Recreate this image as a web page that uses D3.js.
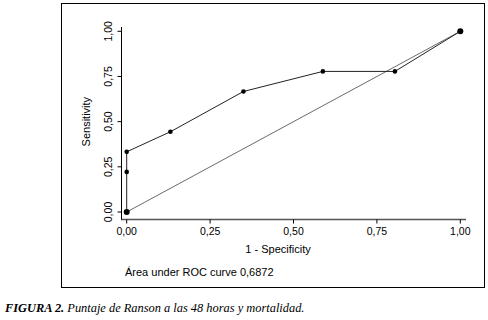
<!DOCTYPE html>
<html>
<head>
<meta charset="utf-8">
<script src="https://cdn.jsdelivr.net/npm/d3@7"></script>
<style>
  body { margin: 0; background: #fff; }
  svg { display: block; }
</style>
</head>
<body>
<div id="chart"></div>
<script>
    // ROC points
    const fpr = [0, 0, 0, 0.131, 0.35, 0.588, 0.804, 1];
    const tpr = [0, 0.222, 0.333, 0.444, 0.667, 0.778, 0.778, 1];
    const ticks = [0, 0.25, 0.5, 0.75, 1];
    const tickLabels = ["0,00", "0,25", "0,50", "0,75", "1,00"];
    const aucText = "Área under ROC curve 0,6872";

    const width = 488;
    const height = 320;

    const svg = d3.select("#chart").append("svg")
        .attr("width", width)
        .attr("height", height)
        .style("font-family", "Arial, 'Liberation Sans', sans-serif");

    // outer frame
    svg.append("rect")
        .attr("x", 61.5).attr("y", 3.5)
        .attr("width", 423).attr("height", 284)
        .attr("fill", "none")
        .attr("stroke", "#000")
        .attr("stroke-width", 1);

    const x = d3.scaleLinear().domain([0, 1]).range([126.7, 460.3]);
    const y = d3.scaleLinear().domain([0, 1]).range([212, 31.3]);

    // x axis
    const xAxis = svg.append("g")
        .attr("transform", "translate(0,219.5)");
    xAxis.append("line")
        .attr("x1", 121).attr("x2", 466)
        .attr("stroke", "#555").attr("stroke-width", 1.5);
    xAxis.selectAll(".tick")
        .data(ticks)
        .join("line")
        .attr("x1", d => x(d)).attr("x2", d => x(d))
        .attr("y1", 0).attr("y2", 4)
        .attr("stroke", "#000");
    xAxis.selectAll("text")
        .data(ticks)
        .join("text")
        .attr("x", d => x(d))
        .attr("y", 15)
        .attr("text-anchor", "middle")
        .attr("font-size", 10.5)
        .text((d, i) => tickLabels[i]);

    // y axis
    const yAxis = svg.append("g")
        .attr("transform", "translate(121.5,0)");
    yAxis.append("line")
        .attr("y1", 27).attr("y2", 219.5)
        .attr("stroke", "#000").attr("stroke-width", 1);
    yAxis.selectAll(".tick")
        .data(ticks)
        .join("line")
        .attr("y1", d => y(d)).attr("y2", d => y(d))
        .attr("x1", -4).attr("x2", 0)
        .attr("stroke", "#000");
    yAxis.selectAll("text")
        .data(ticks)
        .join("text")
        .attr("transform", d => `translate(-10,${y(d)}) rotate(-90)`)
        .attr("text-anchor", "middle")
        .attr("font-size", 10.5)
        .text((d, i) => tickLabels[i]);

    // axis titles
    svg.append("text")
        .attr("transform", `translate(90,${(y(0) + y(1)) / 2}) rotate(-90)`)
        .attr("text-anchor", "middle")
        .attr("font-size", 11)
        .text("Sensitivity");

    svg.append("text")
        .attr("x", 278).attr("y", 253)
        .attr("text-anchor", "middle")
        .attr("font-size", 11)
        .text("1 - Specificity");

    svg.append("text")
        .attr("x", 125).attr("y", 276)
        .attr("font-size", 11)
        .text(aucText);

    // reference diagonal
    svg.append("line")
        .attr("x1", x(0)).attr("y1", y(0))
        .attr("x2", x(1)).attr("y2", y(1))
        .attr("stroke", "#444").attr("stroke-width", 0.8);

    // ROC curve
    const pts = fpr.map((d, i) => [d, tpr[i]]);
    svg.append("path")
        .datum(pts)
        .attr("fill", "none")
        .attr("stroke", "#222")
        .attr("stroke-width", 1)
        .attr("d", d3.line().x(d => x(d[0])).y(d => y(d[1])));

    svg.selectAll(".pt")
        .data(pts)
        .join("circle")
        .attr("cx", d => x(d[0]))
        .attr("cy", d => y(d[1]))
        .attr("r", (d, i) => (i === 0 || i === pts.length - 1) ? 3 : 2.3)
        .attr("fill", "#000");

    // caption
    const cap = svg.append("text")
        .attr("x", 5).attr("y", 312)
        .attr("font-family", "'Liberation Serif', 'DejaVu Serif', serif")
        .attr("font-size", 12.4)
        .attr("font-style", "italic");
    cap.append("tspan").attr("font-weight", "bold").text("FIGURA 2.");
    cap.append("tspan").text(" Puntaje de Ranson a las 48 horas y mortalidad.");
</script>
</body>
</html>
